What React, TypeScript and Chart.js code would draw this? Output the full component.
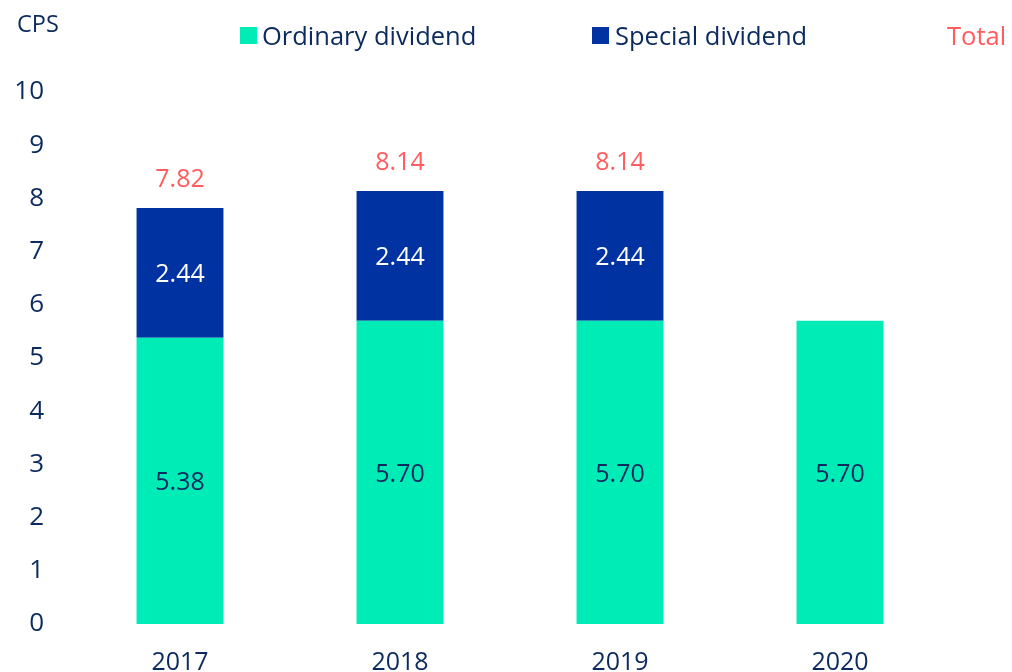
import React, { useEffect, useRef } from "react";
import { Chart, registerables } from "chart.js";

Chart.register(...registerables);

const categories = ["2017", "2018", "2019", "2020"];
const ordinary = [5.38, 5.7, 5.7, 5.7];
const special: (number | null)[] = [2.44, 2.44, 2.44, null];
const totals: (number | null)[] = [7.82, 8.14, 8.14, null];
const yTicks = [0, 1, 2, 3, 4, 5, 6, 7, 8, 9, 10];

const GREEN = "#00ECB6";
const BLUE = "#0033A1";
const NAVY = "#0B2A5E";
const RED = "#FF5C60";
const FONT = "'Open Sans', sans-serif";
const labelColors = [NAVY, "#FFFFFF"];

export default function App() {
  const ref = useRef<HTMLCanvasElement | null>(null);
  useEffect(() => {
    document.body.style.margin = "0";
    const canvas = ref.current!;
    const labelsPlugin = {
      id: "labels",
      afterDatasetsDraw(chart: any) {
        const ctx = chart.ctx;
        ctx.save();
        ctx.textAlign = "center";
        ctx.textBaseline = "middle";
        ctx.font = `25px ${FONT}`;
        chart.data.datasets.forEach((ds: any, di: number) => {
          const meta = chart.getDatasetMeta(di);
          meta.data.forEach((bar: any, i: number) => {
            const v = ds.data[i];
            if (v == null) return;
            const cy = (bar.y + bar.base) / 2;
            ctx.fillStyle = labelColors[di];
            ctx.fillText(v.toFixed(2), bar.x, cy + 2);
          });
        });
        const y = chart.scales.y;
        const x = chart.scales.x;
        totals.forEach((t, i) => {
          if (t == null) return;
          ctx.fillStyle = RED;
          ctx.fillText(t.toFixed(2), x.getPixelForValue(i), y.getPixelForValue(t) - 28);
        });
        // header texts
        ctx.textAlign = "left";
        ctx.fillStyle = NAVY;
        ctx.font = `23.5px ${FONT}`;
        ctx.fillText("CPS", 17, 25);
        ctx.font = `25.5px ${FONT}`;
        ctx.fillStyle = GREEN;
        ctx.fillRect(240, 27, 17, 17);
        ctx.fillStyle = NAVY;
        ctx.fillText("Ordinary dividend", 262, 38);
        ctx.fillStyle = BLUE;
        ctx.fillRect(592, 27, 17, 17);
        ctx.fillStyle = NAVY;
        ctx.fillText("Special dividend", 615, 38);
        ctx.fillStyle = RED;
        ctx.fillText("Total", 947, 38);
        ctx.restore();
      },
    };
    const chart = new Chart(canvas, {
      type: "bar",
      data: {
        labels: categories,
        datasets: [
          { label: "Ordinary dividend", data: ordinary, backgroundColor: GREEN, stack: "s" },
          { label: "Special dividend", data: special as any, backgroundColor: BLUE, stack: "s" },
        ],
      },
      options: {
        animation: false,
        responsive: false,
        layout: { padding: { top: 92, right: 62, left: 0, bottom: 0 } },
        datasets: { bar: { barPercentage: 0.395, categoryPercentage: 1 } },
        plugins: { legend: { display: false }, tooltip: { enabled: false } },
        scales: {
          x: {
            stacked: true,
            grid: { display: false },
            border: { display: false },
            ticks: { color: NAVY, font: { family: FONT, size: 25 }, padding: 16 },
            afterFit: (s: any) => { s.height = 48; },
          },
          y: {
            stacked: true,
            min: 0,
            max: 10,
            grid: { display: false },
            border: { display: false },
            afterBuildTicks: (s: any) => { s.ticks = yTicks.map((v) => ({ value: v })); },
            ticks: { color: NAVY, font: { family: FONT, size: 26 }, padding: 18 },
            afterFit: (s: any) => { s.width = 70; },
          },
        },
      },
      plugins: [labelsPlugin],
    });
    return () => chart.destroy();
  }, []);
  return <canvas ref={ref} width={1012} height={672} style={{ display: "block" }} />;
}
